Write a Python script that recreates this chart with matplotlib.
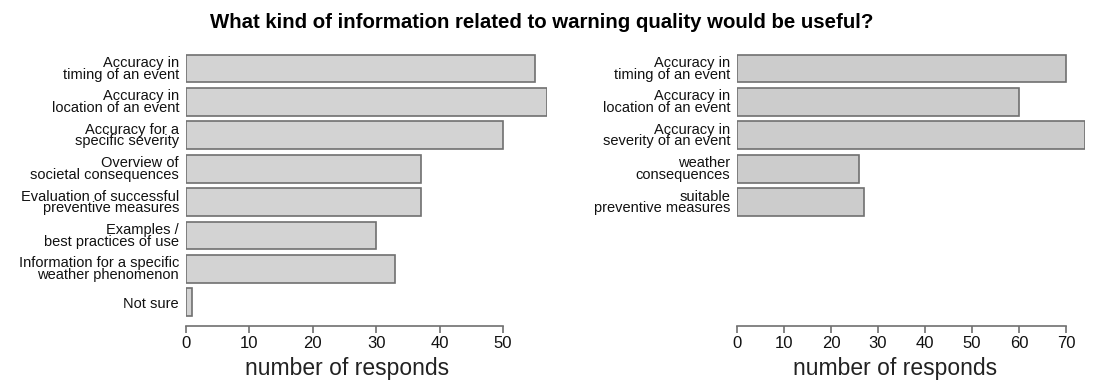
import matplotlib
matplotlib.use("Agg")
import matplotlib.pyplot as plt

plt.rcParams['font.family'] = ['Liberation Sans', 'DejaVu Sans']

title = "What kind of information related to warning quality would be useful?"
left_labels = ["Accuracy in\ntiming of an event", "Accuracy in\nlocation of an event",
               "Accuracy for a\nspecific severity", "Overview of\nsocietal consequences",
               "Evaluation of successful\npreventive measures", "Examples /\nbest practices of use",
               "Information for a specific\nweather phenomenon", "Not sure"]
left_values = [55, 57, 50, 37, 37, 30, 33, 1]
left_ticks = [0, 10, 20, 30, 40, 50]

right_labels = ["Accuracy in\ntiming of an event", "Accuracy in\nlocation of an event",
                "Accuracy in\nseverity of an event", "weather\nconsequences",
                "suitable\npreventive measures"]
right_values = [70, 60, 74, 26, 27]
right_ticks = [0, 10, 20, 30, 40, 50, 60, 70]

xlabel = "number of responds"

fig = plt.figure(figsize=(11.02, 3.9), dpi=100)
bottom = 1 - 322.3 / 390
height = 273.9 / 390
ax1 = fig.add_axes([186 / 1102, bottom, 361.4 / 1102, height])
ax2 = fig.add_axes([737 / 1102, bottom, 347.8 / 1102, height])

def draw(ax, labels, values, ticks, xmax, fill, label_x):
    pos = list(range(len(labels)))
    ax.barh(pos, values, height=0.833, color=fill, edgecolor='#707070', linewidth=1.2)
    ax.set_ylim(7.6, -0.6)
    ax.set_xlim(0, xmax)
    ax.set_yticks(pos)
    ax.set_yticklabels(labels, fontsize=10.5, linespacing=0.78, color='#111111')
    ax.tick_params(axis='y', length=0, pad=5)
    for s in ['top', 'right', 'left']:
        ax.spines[s].set_visible(False)
    ax.spines['bottom'].set_bounds(ticks[0], ticks[-1])
    ax.spines['bottom'].set_position(('outward', 3))
    ax.spines['bottom'].set_color('#707070')
    ax.spines['bottom'].set_linewidth(1.2)
    ax.set_xticks(ticks)
    ax.tick_params(axis='x', length=5, width=1.2, color='#707070', labelsize=12, pad=2,
                   labelcolor='#111111')
    ax.set_xlabel(xlabel, fontsize=16.5, color='#222222')
    ax.xaxis.set_label_coords(label_x, -0.125)
    ax.patch.set_alpha(0)

draw(ax1, left_labels, left_values, left_ticks, 57, '#d3d3d3', 0.447)
draw(ax2, right_labels, right_values, right_ticks, 74, '#cccccc', 0.454)

fig.text(0.492, 0.942, title, ha='center', va='center', fontsize=14.7, fontweight='bold')

fig.savefig("out.png", dpi=100)
